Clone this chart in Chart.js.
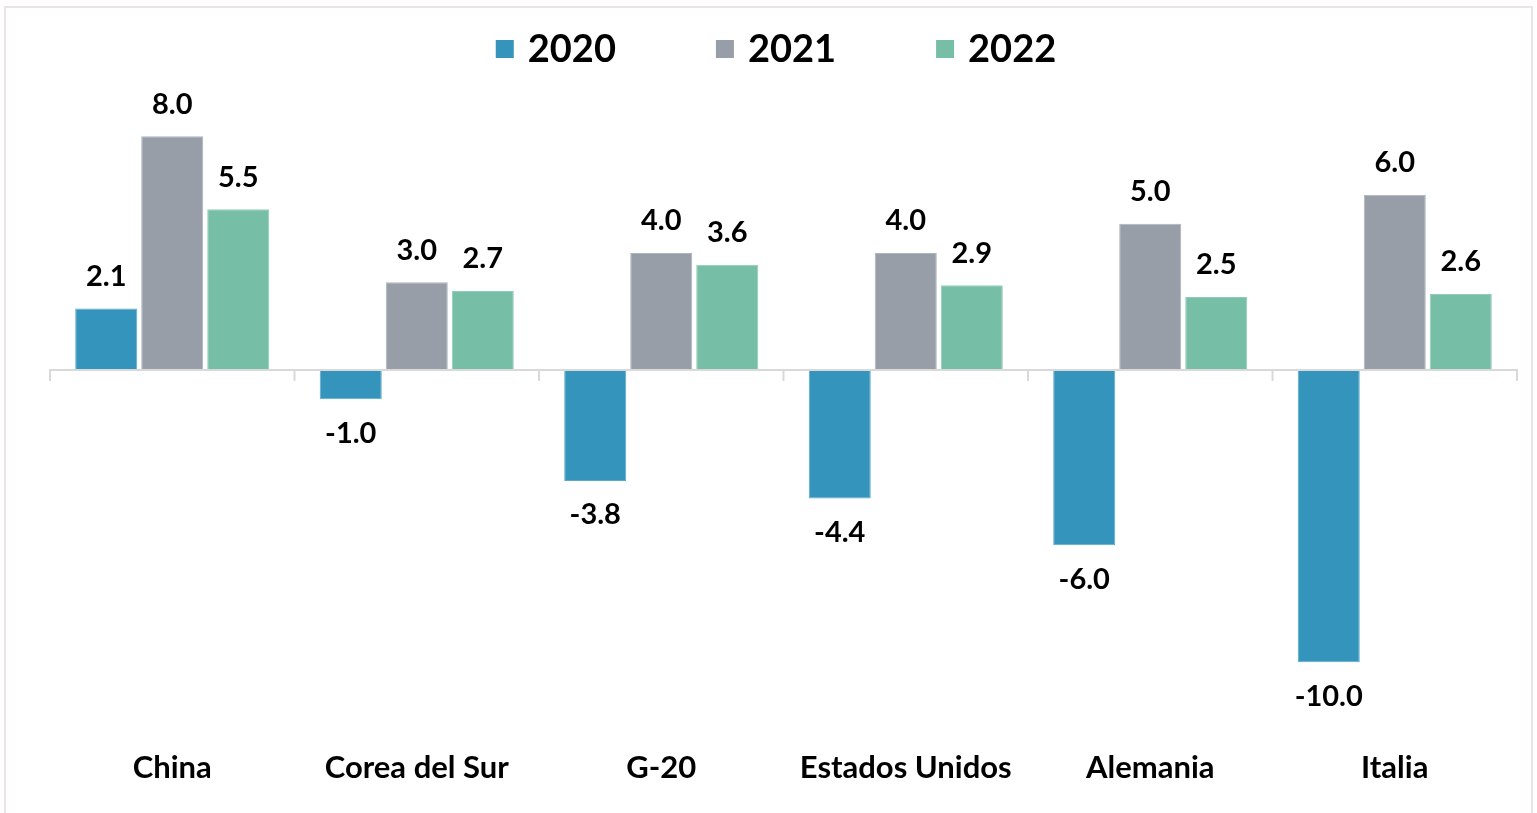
<!DOCTYPE html>
<html>
<head>
<meta charset="utf-8">
<script src="https://cdn.jsdelivr.net/npm/chart.js@4.4.1/dist/chart.umd.min.js"></script>
<style>
  html, body { margin: 0; padding: 0; background: #ffffff; }
  #wrap { width: 1537px; height: 813px; position: relative; }
</style>
</head>
<body>
<div id="wrap"><canvas id="c" width="1537" height="813"></canvas></div>
<script>
const categories = ["China", "Corea del Sur", "G-20", "Estados Unidos", "Alemania", "Italia"];
const seriesNames = ["2020", "2021", "2022"];
const values2020 = [2.1, -1.0, -3.8, -4.4, -6.0, -10.0];
const values2021 = [8.0, 3.0, 4.0, 4.0, 5.0, 6.0];
const values2022 = [5.5, 2.7, 3.6, 2.9, 2.5, 2.6];
const colors = ["#3594BB", "#979EA8", "#76BEA6"];
const edgeColors = ["#5AA9CB", "#AEB4BC", "#92CCB8"];

const FONT = "Lato, 'Open Sans', 'Liberation Sans', sans-serif";

const framePlugin = {
  id: 'frame',
  beforeDraw(chart) {
    const ctx = chart.ctx;
    ctx.save();
    ctx.fillStyle = '#ffffff';
    ctx.fillRect(0, 0, chart.width, chart.height);
    ctx.strokeStyle = '#E9E4E6';
    ctx.lineWidth = 2;
    ctx.strokeRect(5, 7, 1527, 820);
    ctx.restore();
  }
};

const axisPlugin = {
  id: 'zeroAxis',
  afterDatasetsDraw(chart) {
    const ctx = chart.ctx;
    const ca = chart.chartArea;
    const y0 = chart.scales.y.getPixelForValue(0);
    const n = categories.length;
    ctx.save();
    ctx.strokeStyle = '#D9D9D9';
    ctx.lineWidth = 2;
    ctx.beginPath();
    ctx.moveTo(ca.left, y0);
    ctx.lineTo(ca.right, y0);
    for (let i = 0; i <= n; i++) {
      const x = ca.left + (ca.right - ca.left) * i / n;
      ctx.moveTo(x, y0 - 1);
      ctx.lineTo(x, y0 + 11);
    }
    ctx.stroke();
    ctx.restore();
  }
};

const labelPlugin = {
  id: 'valueLabels',
  afterDraw(chart) {
    const ctx = chart.ctx;
    ctx.save();
    ctx.font = "bold 29px " + FONT;
    ctx.fillStyle = '#000000';
    ctx.textAlign = 'center';
    ctx.textBaseline = 'middle';
    chart.data.datasets.forEach((ds, di) => {
      const meta = chart.getDatasetMeta(di);
      meta.data.forEach((bar, i) => {
        const v = ds.data[i];
        const y = v >= 0 ? bar.y - 32 : bar.y + 34;
        ctx.fillText(v.toFixed(1), bar.x, y);
      });
    });
    ctx.restore();
  }
};

const legendPlugin = {
  id: 'customLegend',
  afterDraw(chart) {
    const ctx = chart.ctx;
    ctx.save();
    ctx.font = "bold 38px " + FONT;
    ctx.textBaseline = 'middle';
    const box = 18, gap = 14, spacing = 100;
    const items = chart.data.datasets.map(ds => ({ label: ds.label, color: ds.backgroundColor, w: ctx.measureText(ds.label).width }));
    let total = 0;
    items.forEach((it, i) => { total += box + gap + it.w + (i < items.length - 1 ? spacing : 0); });
    let x = 776 - total / 2;
    const cy = 49;
    items.forEach(it => {
      ctx.fillStyle = it.color;
      ctx.fillRect(x, cy - box / 2, box, box);
      ctx.fillStyle = '#000000';
      ctx.textAlign = 'left';
      ctx.fillText(it.label, x + box + gap, cy + 1);
      x += box + gap + it.w + spacing;
    });
    ctx.restore();
  }
};

const allValues = [values2020, values2021, values2022];
new Chart(document.getElementById('c'), {
  type: 'bar',
  data: {
    labels: categories,
    datasets: seriesNames.map((name, i) => ({
      label: name,
      data: allValues[i],
      backgroundColor: colors[i],
      borderColor: edgeColors[i],
      borderWidth: 1,
      categoryPercentage: 0.81,
      barPercentage: 0.94
    }))
  },
  options: {
    responsive: false,
    animation: false,
    devicePixelRatio: 1,
    layout: { padding: { left: 50, right: 20, top: 107, bottom: 26 } },
    plugins: {
      legend: { display: false },
      tooltip: { enabled: false }
    },
    scales: {
      x: {
        grid: { display: false, drawTicks: false },
        border: { display: false },
        ticks: {
          padding: 0,
          color: '#000000',
          font: { family: FONT, size: 31, weight: 'bold', lineHeight: 1.2 }
        }
      },
      y: {
        display: false,
        min: -13,
        max: 9
      }
    }
  },
  plugins: [framePlugin, axisPlugin, labelPlugin, legendPlugin]
});
</script>
</body>
</html>
